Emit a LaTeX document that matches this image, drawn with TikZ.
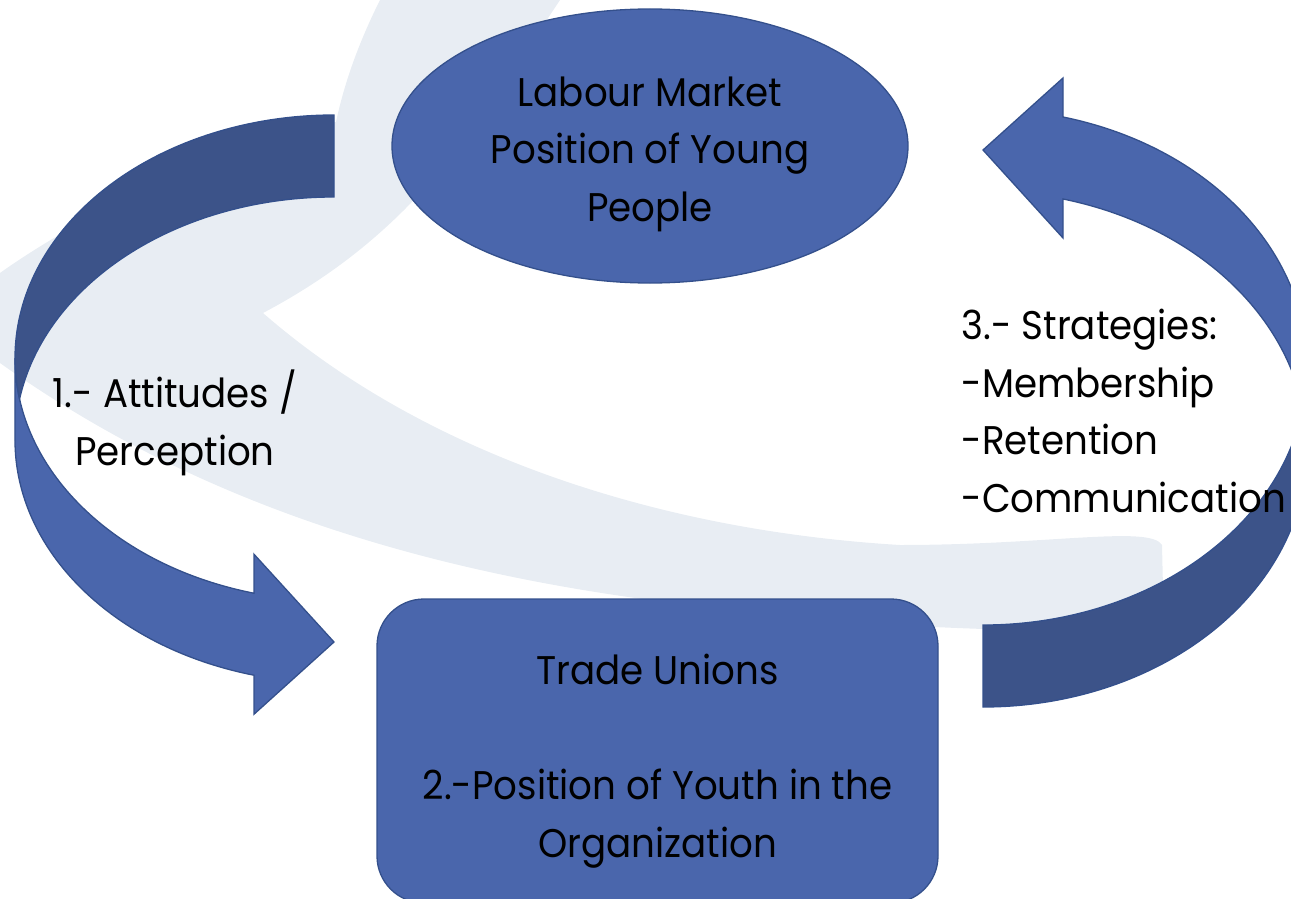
\documentclass[tikz,border=0pt]{standalone}
\usepackage{fontspec}
\setmainfont[FakeStretch=0.93]{Poppins}
\usepackage{tikz}
\usetikzlibrary{shapes.geometric}
\definecolor{CycleBlue}{HTML}{4A66AC}
\definecolor{CycleShade}{HTML}{3C5389}
\definecolor{CycleEdge}{HTML}{34508C}
\definecolor{CycleMark}{HTML}{E8EDF3}
\newcommand{\bandw}{82}
\newcommand{\headw}{160}
\newcommand{\headl}{80}
\newcommand{\cyclearrow}[4]{%
  \begin{scope}[#1]
    \pgfmathsetmacro{\caR}{#4/2-(\bandw+\headw)/4}
    \pgfmathsetmacro{\caTip}{acos(\headl/#3)}
    \pgfmathsetmacro{\caDy}{\caR*sin(\caTip)}
    \pgfmathsetmacro{\caCross}{asin(\bandw/(2*\caR))}
    \pgfmathsetmacro{\caXa}{#3-\headl}
    \fill[CycleBlue,draw=CycleEdge,line width=1.3pt] (0,\caR)
      arc[start angle=180,end angle=180-\caTip,x radius=#3,y radius=\caR]
      -- (\caXa,\caR+\caDy-\headw/2+\bandw/2) -- (#3,#4-\headw/2) coordinate (#2-tip)
      -- (\caXa,\caR+\caDy+\headw/2+\bandw/2) -- (\caXa,\caR+\caDy+\bandw)
      arc[start angle=180-\caTip,end angle=180,x radius=#3,y radius=\caR]
      -- cycle;
    \fill[CycleShade,draw=CycleEdge,line width=1.3pt] (#3,0) coordinate (#2-tail)
      arc[start angle=270,end angle=180-\caCross,x radius=#3,y radius=\caR]
      arc[start angle=180+\caCross,end angle=270,x radius=#3,y radius=\caR]
      -- cycle;
  \end{scope}}
\tikzset{
  cycletext/.style={font=\fontsize{40}{57.5}\selectfont,text=black},
  cyclebox/.style={fill=CycleBlue,draw=CycleEdge,line width=1.3pt,inner sep=0pt}
}

\begin{document}
\begin{tikzpicture}[x=1pt,y=-1pt]
  \useasboundingbox (0,0) rectangle (1291,899);
  \clip (0,0) rectangle (1291,899);
  \fill[CycleMark] (380,0) -- (560,0) .. controls (480,120) and (420,230) .. (263,313)
    .. controls (420,450) and (650,530) .. (900,545)
    .. controls (1050,545) and (1150,525) .. (1162,545) -- (1164,632)
    .. controls (1000,632) and (800,625) .. (650,600)
    .. controls (350,560) and (150,470) .. (0,363) -- (0,273)
    .. controls (60,230) and (200,150) .. (336,122)
    .. controls (345,80) and (360,40) .. (380,0) -- cycle;
  \cyclearrow{shift={(15,115)}}{attitude}{319}{607}
  \cyclearrow{shift={(1307,707)},rotate=180}{strategy}{324}{637}
  \node[cyclebox,ellipse,minimum width=516pt,minimum height=274pt] (market) at (650,146) {};
  \node[cyclebox,rectangle,rounded corners=47pt,minimum width=561pt,minimum height=304pt]
    (unions) at (657.5,751) {};
  \node[cycletext,align=center] (market-text) at ([yshift=-8pt]market.center)
    {Labour Market\\Position of Young\\People};
  \node[cycletext,align=center] (unions-text) at ([yshift=-10pt]unions.center)
    {Trade Unions\\[57.5pt]2.-Position of Youth in the\\Organization};
  \node[cycletext,align=center] (attitudes) at (175,423) {1.- Attitudes /\\Perception};
  \node[cycletext,align=left,anchor=west] (strategies) at (958,411)
    {3.- Strategies:\\-Membership\\-Retention\\-Communication};
\end{tikzpicture}
\end{document}
